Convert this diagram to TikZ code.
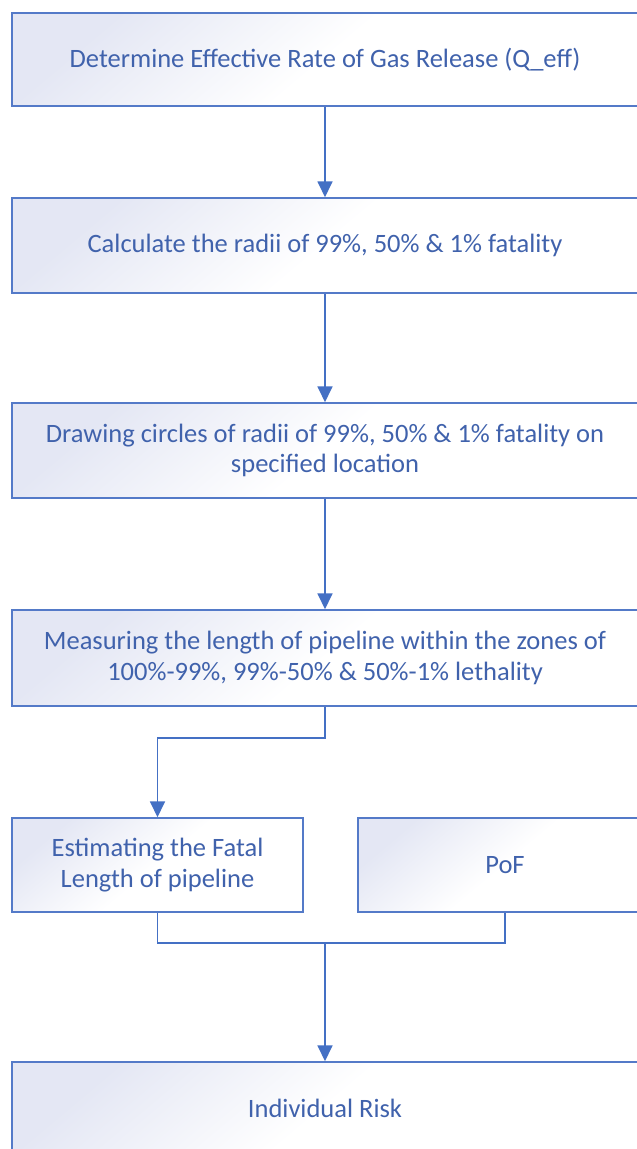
\documentclass[tikz,border=0pt]{standalone}
\usepackage{fontspec}
\setmainfont{Carlito}
\usetikzlibrary{arrows.meta}
\definecolor{bordc}{RGB}{84,122,200}
\definecolor{txtc}{RGB}{64,98,172}
\definecolor{lav}{RGB}{228,231,244}
\definecolor{arrc}{RGB}{68,112,196}
\tikzset{
  box/.style={draw=bordc, line width=1.5pt, rectangle, inner sep=0pt,
    top color=lav, bottom color=white, middle color=white, shading angle=40,
    text=txtc, align=center, font=\fontsize{26.5}{30.5}\selectfont},
  conn/.style={draw=arrc, line width=1.8pt},
  arr/.style={conn, -{Triangle[width=15pt,length=16pt]}}
}
\begin{document}
\begin{tikzpicture}[x=1pt,y=-1pt]
\useasboundingbox (0,0) rectangle (637,1149);
\clip (0,0) rectangle (637,1149);
\fill[white] (0,0) rectangle (637,1149);
\node[box, minimum width=626pt, minimum height=93pt] (b1) at (325,59.5) {Determine Effective Rate of Gas Release (Q\_eff)};
\node[box, minimum width=626pt, minimum height=95pt] (b2) at (325,245.5) {Calculate the radii of 99\%, 50\% \& 1\% fatality};
\node[box, minimum width=626pt, minimum height=95pt] (b3) at (325,450.5) {Drawing circles of radii of 99\%, 50\% \& 1\% fatality on\\specified location};
\node[box, minimum width=626pt, minimum height=96pt] (b4) at (325,658) {Measuring the length of pipeline within the zones of\\100\%-99\%, 99\%-50\% \& 50\%-1\% lethality};
\node[box, minimum width=291pt, minimum height=94pt] (b5) at (157.5,865) {Estimating the Fatal\\Length of pipeline};
\node[box, minimum width=294pt, minimum height=94pt] (b6) at (505,865) {PoF};
\node[box, minimum width=626pt, minimum height=92pt] (b7) at (325,1108) {Individual Risk};
\coordinate (j1) at (325,738);
\coordinate (j2) at (325,943);
\draw[arr] (b1.south) -- (b2.north);
\draw[arr] (b2.south) -- (b3.north);
\draw[arr] (b3.south) -- (b4.north);
\draw[arr] (b4.south) -- (j1) -| (b5.north);
\draw[conn] (b5.south) |- (j2) -| (b6.south);
\draw[arr] (j2) -- (b7.north);
\end{tikzpicture}
\end{document}
